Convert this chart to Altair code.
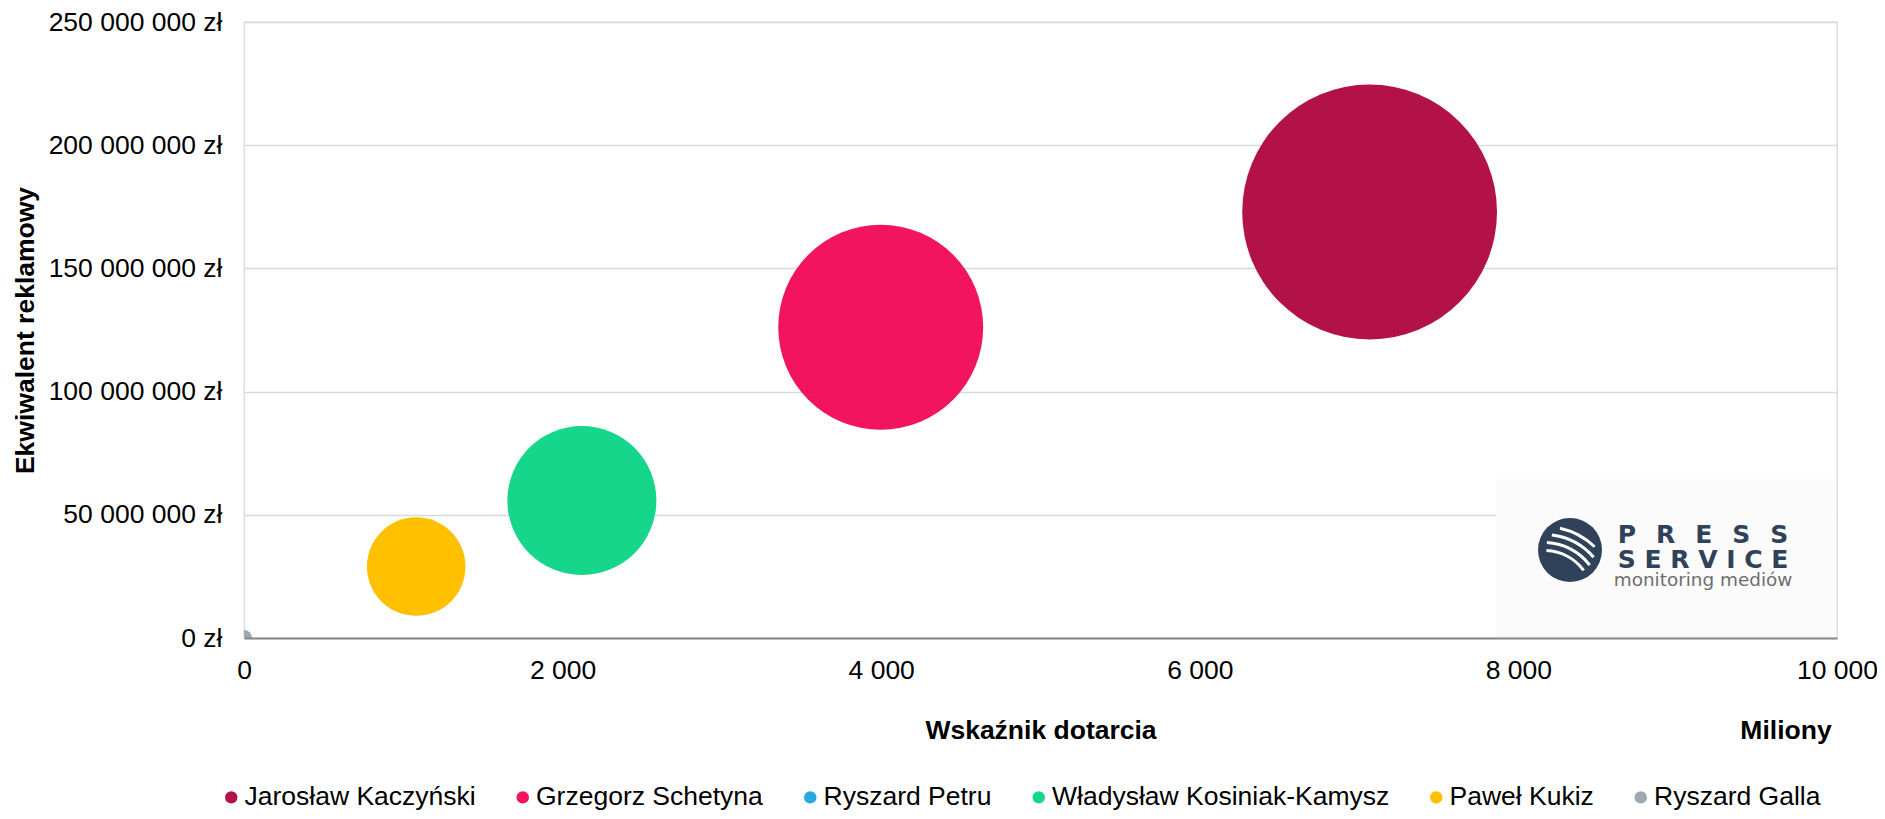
import altair as alt
import pandas as pd

# ---- data ----
names = ["Jarosław Kaczyński", "Grzegorz Schetyna", "Ryszard Petru",
         "Władysław Kosiniak-Kamysz", "Paweł Kukiz", "Ryszard Galla"]
reach_mln = [7066, 3997, 0, 2121, 1081, 0]                            # Wskaźnik dotarcia (miliony)
ad_equiv = [172_900_000, 126_100_000, 0, 55_800_000, 29_000_000, 0]   # Ekwiwalent reklamowy (zł)
bubble_size = [16230, 10500, 30, 5550, 2430, 64]                      # relative bubble size
colors = ["#B31248", "#F2145F", "#27A8DF", "#15D68A", "#FFC000", "#9AA9B3"]

x_ticks = [0, 2000, 4000, 6000, 8000, 10000]
y_ticks = [0, 50_000_000, 100_000_000, 150_000_000, 200_000_000, 250_000_000]

df = pd.DataFrame({"name": names, "reach": reach_mln, "equiv": ad_equiv, "size": bubble_size})

W, H = 1593, 616
PAD_L, PAD_T, PAD_R, PAD_B = 236, 14, 40, 172
FONT = "Liberation Sans"
FS = 26.5
NAVY = "#2F4259"

bubbles = alt.Chart(df).mark_circle(opacity=1, clip=True).encode(
    x=alt.X("reach:Q",
            scale=alt.Scale(domain=[0, 10000], nice=False, zero=True),
            axis=alt.Axis(values=x_ticks, grid=False, ticks=False, domain=True,
                          domainColor="#888888", domainWidth=2,
                          labelExpr="replace(format(datum.value, ','), regexp(',', 'g'), ' ')",
                          labelFlush=False, labelPadding=19, labelFontSize=FS, labelFont=FONT,
                          labelColor="#000000",
                          title="Wskaźnik dotarcia", titleFont=FONT, titleFontSize=FS,
                          titleFontWeight="bold", titleColor="#000000", titlePadding=34,
                          zindex=1)),
    y=alt.Y("equiv:Q",
            scale=alt.Scale(domain=[0, 250_000_000], nice=False, zero=True),
            axis=alt.Axis(values=y_ticks, grid=True, gridColor="#D9D9D9", gridWidth=1.3,
                          ticks=False, domain=False,
                          labelExpr="replace(format(datum.value, ','), regexp(',', 'g'), ' ') + ' zł'",
                          labelFlush=False, labelPadding=22, labelFontSize=FS, labelFont=FONT,
                          labelColor="#000000",
                          title="Ekwiwalent reklamowy", titleFont=FONT, titleFontSize=FS,
                          titleFontWeight="bold", titleColor="#000000", titlePadding=9,
                          zindex=0)),
    size=alt.Size("size:Q", scale=alt.Scale(domain=[0, 16230], range=[0, 64924], zero=True),
                  legend=None),
    color=alt.Color("name:N", scale=alt.Scale(domain=names, range=colors),
                    legend=alt.Legend(title=None, orient="none", legendX=-26, legendY=762,
                                      direction="horizontal", columns=6,
                                      symbolType="circle", symbolSize=156, symbolOpacity=1,
                                      symbolStrokeWidth=0,
                                      labelFont=FONT, labelFontSize=FS, labelColor="#000000",
                                      labelOffset=0, columnPadding=33.5, padding=0,
                                      labelLimit=500)),
)

# ---- "Miliony" display-unit label ----
miliony = alt.Chart(alt.Data(values=[{}])).mark_text(
    text="Miliony", font=FONT, fontSize=FS, fontWeight="bold", color="#000000",
    align="center", baseline="top"
).encode(x=alt.value(W - 51), y=alt.value(696))

# ---- PRESS SERVICE logo (bottom-right corner of the plot) ----
blank = alt.Data(values=[{}])
BX, BY = W - 341, H - 159          # logo box top-left, plot coordinates
logo_bg = alt.Chart(blank).mark_rect(fill="#FBFBFB").encode(
    x=alt.value(BX), x2=alt.value(W - 1), y=alt.value(BY), y2=alt.value(H - 1))
logo_circle = alt.Chart(blank).mark_circle(size=4096, color=NAVY, opacity=1).encode(
    x=alt.value(BX + 74), y=alt.value(BY + 71))

stripes = []
for r, t1, t2 in [(48, 0.05, 0.93), (56, 0.05, 0.92), (64, 0.12, 0.86), (72, 0.22, 0.76)]:
    stripes.append(
        alt.Chart(blank).mark_arc(color="white", radius=r + 3, radius2=r,
                                  theta=t1, theta2=t2).encode(
            x=alt.value(BX + 48), y=alt.value(BY + 121))
    )

sp = "\u2002\u2009\u200a"
press = alt.Chart(blank).mark_text(
    text=sp.join("PRESS"), font="DejaVu Sans", fontWeight="bold", fontSize=25,
    color=NAVY, align="center", baseline="alphabetic"
).encode(x=alt.value(BX + 207), y=alt.value(BY + 64))
service = alt.Chart(blank).mark_text(
    text=" ".join("SERVICE"), font="DejaVu Sans", fontWeight="bold", fontSize=25,
    color=NAVY, align="center", baseline="alphabetic"
).encode(x=alt.value(BX + 207), y=alt.value(BY + 89))
monitoring = alt.Chart(blank).mark_text(
    text="monitoring mediów", font="DejaVu Sans", fontSize=18.4,
    color="#6E6E6E", align="center", baseline="alphabetic"
).encode(x=alt.value(BX + 207), y=alt.value(BY + 107))

chart = alt.layer(
    bubbles, logo_bg, logo_circle, *stripes, press, service, monitoring, miliony
).properties(
    width=W, height=H,
    autosize=alt.AutoSizeParams(type="none"),
    padding={"left": PAD_L, "top": PAD_T, "right": PAD_R, "bottom": PAD_B},
    background="white",
).configure_view(
    stroke="#D9D9D9", strokeWidth=1.3
)

chart.save("out.html", embed_options={"renderer": "svg", "actions": False})
